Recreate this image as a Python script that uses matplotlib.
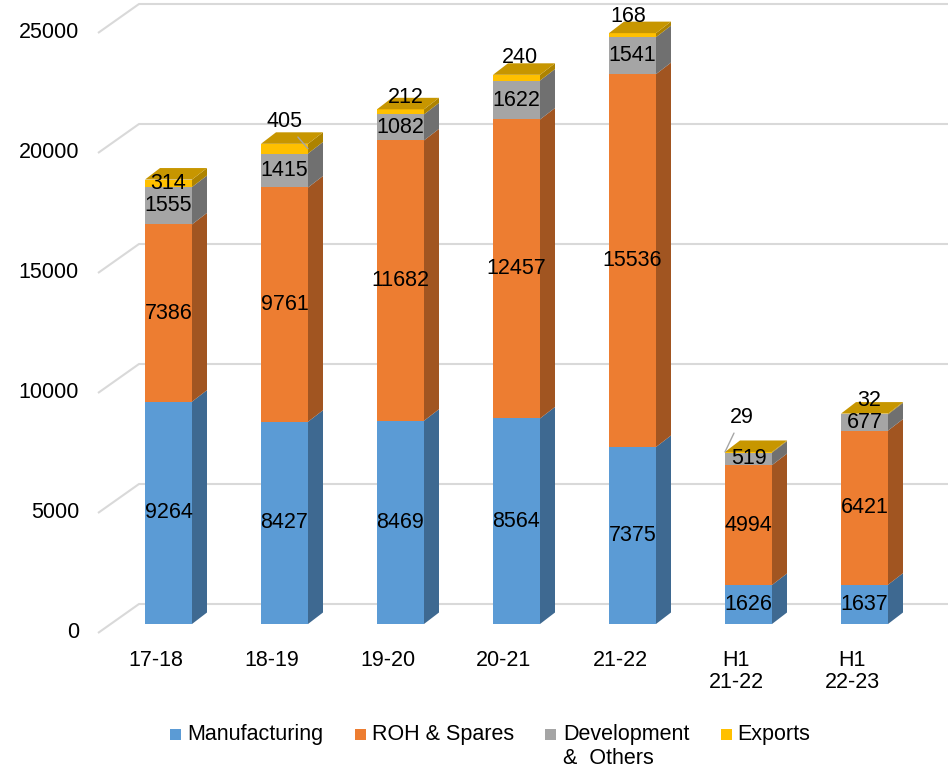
import matplotlib.pyplot as plt
from matplotlib.patches import Polygon, Rectangle
from matplotlib.colors import to_rgb

periods = ["17-18", "18-19", "19-20", "20-21", "21-22", "H1\n21-22", "H1\n22-23"]
manufacturing = [9264, 8427, 8469, 8564, 7375, 1626, 1637]
roh_spares = [7386, 9761, 11682, 12457, 15536, 4994, 6421]
development = [1555, 1415, 1082, 1622, 1541, 519, 677]
exports = [314, 405, 212, 240, 168, 29, 32]
y_ticks = [0, 5000, 10000, 15000, 20000, 25000]

series = [
    ("Manufacturing", manufacturing, "#5B9BD5"),
    ("ROH & Spares", roh_spares, "#ED7D31"),
    ("Development\n&  Others", development, "#A5A5A5"),
    ("Exports", exports, "#FFC000"),
]

plt.rcParams["font.family"] = ["Liberation Sans", "DejaVu Sans"]
plt.rcParams["font.size"] = 15.5


def shade(color, f):
    return tuple(c * f for c in to_rgb(color))


W, H = 953, 770
fig = plt.figure(figsize=(W / 100, H / 100), dpi=100)
ax = fig.add_axes([0, 0, 1, 1])

# scale: one category = 116 px, one unit of value = 0.024 px
sx, sy = 116.0, 0.024
x0_px, y0_px = 168.5, 624
ax.set_xlim(-x0_px / sx, (W - x0_px) / sx)
ax.set_ylim(-(H - y0_px) / sy, y0_px / sy)
ax.axis("off")

bar_w = 47 / sx
depth_x, depth_y = 15 / sx, 11.5 / sy
floor_dx, floor_dy = -12.5 / sx, -9 / sy
wall_dy = 20 / sy

# back wall gridlines with the slanted floor edge on the left
for v in y_ticks:
    xs = [(98 - x0_px) / sx, (139 - x0_px) / sx, (948 - x0_px) / sx]
    ys = [v + floor_dy, v + wall_dy, v + wall_dy]
    ax.plot(xs, ys, color="#D9D9D9", lw=1.5, zorder=0, solid_capstyle="butt")
    ax.text((79 - x0_px) / sx, v + floor_dy, str(v), ha="right", va="center")

for i, p in enumerate(periods):
    ax.text(i + floor_dx, -26 / sy, p, ha="center", va="top", linespacing=1.08)

# 3D stacked columns: front face, right side and the top lid
for i in range(len(periods)):
    left, right = i - bar_w / 2, i + bar_w / 2
    base = 0
    for name, vals, col in series:
        top = base + vals[i]
        ax.add_patch(Rectangle((left, base), bar_w, vals[i], facecolor=col,
                               edgecolor="none", zorder=2))
        ax.add_patch(Polygon([(right, base), (right + depth_x, base + depth_y),
                              (right + depth_x, top + depth_y), (right, top)],
                             facecolor=shade(col, 0.68), edgecolor="none", zorder=2))
        base = top
    ax.add_patch(Polygon([(left, base), (right, base), (right + depth_x, base + depth_y),
                          (left + depth_x, base + depth_y)],
                         facecolor=shade(series[-1][2], 0.78), edgecolor="none", zorder=2))

# value labels; the small export figures are nudged above the lid
export_shift = [(0, 0), (0, 27), (5, 14), (3, 20), (-4, 19), (-7, 35), (5, 13)]
leader_to = {1: 1, 5: -1}
for i in range(len(periods)):
    base = 0
    for k, (name, vals, col) in enumerate(series):
        mid = base + vals[i] / 2
        if k == 3:
            dx, dy = export_shift[i]
            tx, ty = i + dx / sx, mid + dy / sy
            if i in leader_to:
                side = leader_to[i]
                anchor = (i + side * bar_w / 2, base + vals[i] if side < 0 else mid)
                ax.annotate(str(vals[i]), xy=anchor, xytext=(tx, ty), ha="center",
                            va="center", zorder=5,
                            arrowprops=dict(arrowstyle="-", color="#A6A6A6", lw=1,
                                            shrinkA=2, shrinkB=0))
            else:
                ax.text(tx, ty, str(vals[i]), ha="center", va="center", zorder=5)
        else:
            ax.text(i, mid, str(vals[i]), ha="center", va="center", zorder=5)
        base += vals[i]

# legend along the bottom
legend_pos = [(170, 187), (355, 372), (545, 563), (721, 737)]
for (name, vals, col), (bx, tx) in zip(series, legend_pos):
    fig.add_artist(Rectangle((bx / W, 1 - 740 / H), 11 / W, 11 / H, facecolor=col,
                             edgecolor="none", transform=fig.transFigure))
    fig.text(tx / W, 1 - 724 / H, name, ha="left", va="top", linespacing=1.17)

fig.savefig("out.png", dpi=100)
